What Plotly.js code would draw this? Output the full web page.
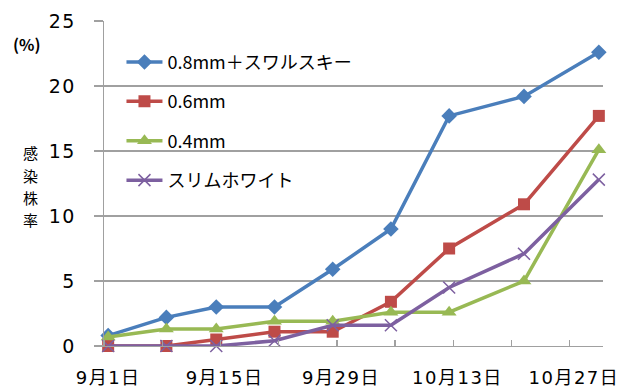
<!DOCTYPE html>
<html>
<head>
<meta charset="utf-8">
<script src="https://cdn.plot.ly/plotly-3.0.1.min.js"></script>
<style>
html,body{margin:0;padding:0;background:#fff;}
#chart{width:630px;height:391px;}
.xtick text, .ytick text { letter-spacing: 1.5px; }
</style>
</head>
<body>
<div id="chart"></div>
<script>
// Observation dates (Excel date axis: points centred in their day slot)
const dates = ['2023-09-01','2023-09-08','2023-09-14','2023-09-21','2023-09-28','2023-10-05','2023-10-12','2023-10-21','2023-10-30'];
const seriesNames = ['0.8mm＋スワルスキー','0.6mm','0.4mm','スリムホワイト'];
const s08swirski = [0.8, 2.2, 3.0, 3.0, 5.9, 9.0, 17.7, 19.2, 22.6];
const s06 = [0.0, 0.0, 0.5, 1.1, 1.1, 3.4, 7.5, 10.9, 17.7];
const s04 = [0.7, 1.3, 1.3, 1.9, 1.9, 2.6, 2.6, 5.0, 15.1];
const sSlimWhite = [0.0, 0.0, 0.0, 0.4, 1.6, 1.6, 4.5, 7.1, 12.8];
const tickDates = ['2023-09-01','2023-09-15','2023-09-29','2023-10-13','2023-10-27'];
const tickLabels = ['9月1日','9月15日','9月29日','10月13日','10月27日'];
const yTitleChars = ['感','染','株','率'];
const yUnit = '(%)';

const noon = d => d + ' 12:00';
const xs = dates.map(noon);

const colors = ['#4A7EBB','#BE4B48','#98B954','#7D60A0'];
const symbols = ['diamond','square','triangle-up','x-thin'];
const sizes = [12, 12, 13, 12];
const values = [s08swirski, s06, s04, sSlimWhite];

const traces = values.map((v, i) => ({
  type: 'scatter', mode: 'lines+markers',
  x: xs, y: v, name: seriesNames[i], legendgroup: 'g' + i,
  line: {color: colors[i], width: 3.5},
  marker: {symbol: symbols[i], size: sizes[i], color: colors[i],
           line: {color: colors[i], width: i === 3 ? 1.5 : 0}},
  cliponaxis: false
}));

const fontFam = 'DejaVu Sans, "Noto Sans CJK JP", sans-serif';
const cjk = '"Noto Sans CJK JP", sans-serif';

const titleAnns = yTitleChars.map((c, i) => ({
  text: c, xref: 'paper', yref: 'paper', x: -0.148, y: 0.595 - i * 0.069,
  xanchor: 'center', yanchor: 'middle', showarrow: false,
  font: {family: cjk, size: 15, color: '#000'}
}));

const layout = {
  width: 630, height: 391,
  margin: {l: 104, r: 27, t: 21, b: 45},
  paper_bgcolor: '#fff', plot_bgcolor: '#fff',
  showlegend: true,
  legend: {
    x: 0.035, y: 0.93, xanchor: 'left', yanchor: 'top',
    itemwidth: 36,
    bgcolor: 'rgba(0,0,0,0)', traceorder: 'grouped', tracegroupgap: 13,
    font: {family: cjk, size: 18, color: '#000'}
  },
  xaxis: {
    type: 'date',
    range: ['2023-09-01', '2023-10-31'],
    tickmode: 'array', tickvals: tickDates.map(noon), ticktext: tickLabels,
    ticks: '', showgrid: false,
    showline: true, linecolor: '#A0A0A0', linewidth: 1.3,
    ticklabelstandoff: 15,
    tickfont: {family: fontFam, size: 18, color: '#000'},
    minor: {ticks: 'inside', ticklen: 6, tickcolor: '#A0A0A0', tickwidth: 1.3,
            tickmode: 'linear', tick0: '2023-09-01', dtick: 7 * 86400000, showgrid: false},
    fixedrange: true
  },
  yaxis: {
    range: [0, 25], dtick: 5, tick0: 0,
    ticks: 'outside', ticklen: 9, tickcolor: '#A0A0A0', tickwidth: 1.3,
    showgrid: true, gridcolor: '#A0A0A0', gridwidth: 1.3,
    showline: true, linecolor: '#A0A0A0', linewidth: 1.3,
    zeroline: false,
    ticklabelstandoff: 14,
    tickfont: {family: fontFam, size: 19, color: '#000'},
    fixedrange: true
  },
  annotations: titleAnns.concat([
    {text: yUnit, xref: 'paper', yref: 'paper', x: -0.155, y: 0.93, xanchor: 'center', yanchor: 'middle',
     showarrow: false, font: {family: cjk, size: 16, color: '#000', weight: 'bold'}}
  ])
};

Plotly.newPlot('chart', traces, layout, {staticPlot: true, displayModeBar: false});
</script>
</body>
</html>
